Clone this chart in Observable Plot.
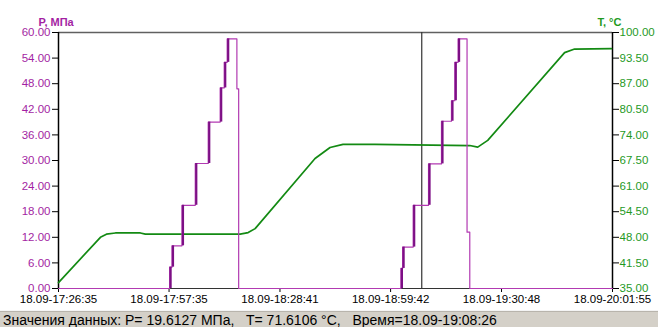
<!DOCTYPE html>
<html>
<head>
<meta charset="utf-8">
<script src="https://cdn.jsdelivr.net/npm/d3@7"></script>
<script src="https://cdn.jsdelivr.net/npm/@observablehq/plot@0.6"></script>
<style>
  html, body { margin: 0; padding: 0; background: #fff; }
  #chart svg { display: block; }
  #status {
    height: 16px; background: #d4d0c8; border-top: 1px solid #f4f4f4;
    box-shadow: inset 0 1px 0 #b8b4ac;
    font-family: "Liberation Sans", Arial, sans-serif; font-size: 14px;
    line-height: 19px; white-space: pre; padding-left: 3px; color: #000;
    overflow: hidden;
  }
</style>
</head>
<body>
<div id="chart"></div>
<div id="status"></div>
<script>
// ---- data ----
const dateLabel = "18.09";
const xStart = "17:26:35";
const xEnd = "20:01:55";
const xTickTimes = ["17:26:35", "17:57:35", "18:28:41", "18:59:42", "19:30:48", "20:01:55"];
const pTicks = [0, 6, 12, 18, 24, 30, 36, 42, 48, 54, 60];
const tTicks = [35, 41.5, 48, 54.5, 61, 67.5, 74, 80.5, 87, 93.5, 100];

// Pressure, MPa (step series)
const pTimes = ["17:26:35", "17:57:44", "17:58:24", "18:01:12", "18:04:56", "18:08:34", "18:11:55", "18:13:03", "18:13:53", "18:16:36", "18:17:06",
                "19:02:35", "19:03:04", "19:06:02", "19:10:20", "19:13:58", "19:16:46", "19:17:42", "19:18:37", "19:21:08", "19:21:54", "20:01:55"];
const pValues = [0, 5, 10, 19.5, 29.3, 39, 47, 53, 58.5, 46.8, 0,
                 4.7, 9.7, 19.5, 29.2, 39.2, 44, 53, 58.5, 13.2, 0, 0];

// Temperature, °C
const tTimes = ["17:26:35", "17:38:20", "17:40:01", "17:42:32", "17:49:32", "17:50:56", "18:17:31", "18:19:46", "18:21:43", "18:38:31", "18:42:43",
                "18:46:21", "18:55:18", "19:21:54", "19:24:08", "19:26:56", "19:48:29", "19:51:17", "20:01:38"];
const tValues = [36.5, 48.0, 48.8, 49.1, 49.1, 48.8, 48.8, 49.2, 50.2, 68.0, 70.8,
                 71.6, 71.6, 71.3, 70.9, 72.6, 94.9, 95.8, 95.9];

const cursorTime = "19:08:26";
const cursorP = "19.6127";
const cursorT = "71.6106";

// ---- helpers ----
const parse = s => { const [h, m, sec] = s.split(":").map(Number); return new Date(2000, 8, 18, h, m, sec); };
const tMin = 35, tMax = 100, pMax = 60;
const tToP = t => (t - tMin) / (tMax - tMin) * pMax;
const pToT = p => tMin + p / pMax * (tMax - tMin);

const pData = pTimes.map((s, i) => ({time: parse(s), P: pValues[i]}));
const tData = tTimes.map((s, i) => ({time: parse(s), T: tValues[i]}));
// rising edges of the pressure steps (drawn heavier, as in the recorder trace)
const rises = pData.slice(1).map((d, i) => ({time: d.time, from: pData[i].P, to: d.P})).filter(d => d.to > d.from);

const purple = "#a31fa3";
const green = "#1f9a1f";

const chart = Plot.plot({
  width: 658, height: 310,
  marginLeft: 58, marginRight: 46, marginTop: 32, marginBottom: 22,
  style: {fontFamily: "'Liberation Sans', Arial, sans-serif", fontSize: "11.5px", background: "#fff", overflow: "visible"},
  x: {type: "time", domain: [parse(xStart), parse(xEnd)]},
  y: {domain: [0, pMax]},
  marks: [
    Plot.ruleY([pMax], {stroke: "#606060", strokeWidth: 1.5}),
    Plot.ruleY([0], {stroke: "#333"}),
    Plot.axisY({anchor: "left", ticks: pTicks, tickFormat: d => d.toFixed(2), tickSize: 6, tickPadding: 2, fill: purple, stroke: "#000", label: null}),
    Plot.axisY({anchor: "right", ticks: tTicks.map(tToP), tickFormat: d => pToT(d).toFixed(2), tickSize: 6, tickPadding: 1, fill: green, stroke: "#000", label: null}),
    Plot.axisX({ticks: xTickTimes.map(parse), tickFormat: d => dateLabel + "-" + d3.timeFormat("%H:%M:%S")(d), tickSize: 4, tickPadding: 2, fill: "#000", stroke: "#000", label: null}),
    Plot.ruleX([parse(xStart)], {stroke: "#000", strokeWidth: 1.5}),
    Plot.ruleX([parse(xEnd)], {stroke: "#000", strokeWidth: 1.5}),
    Plot.ruleX([parse(cursorTime)], {stroke: "#333", strokeWidth: 1.2}),
    Plot.line(tData, {x: "time", y: d => tToP(d.T), stroke: "#138a13", strokeWidth: 1.7}),
    Plot.line(pData, {x: "time", y: "P", curve: "step-after", stroke: "#b23ab2", strokeWidth: 1.2}),
    Plot.ruleX(rises, {x: "time", y1: "from", y2: "to", stroke: "#7d0f85", strokeWidth: 2.2, dx: 1}),
    Plot.text(["P, МПа"], {frameAnchor: "top-left", dx: -20, dy: -14, fill: purple, textAnchor: "start", fontWeight: "bold", fontSize: 11}),
    Plot.text(["T, °C"], {frameAnchor: "top-right", dx: -15, dy: -14, fill: green, textAnchor: "start", fontWeight: "bold", fontSize: 11})
  ]
});
document.getElementById("chart").append(chart);
document.getElementById("status").textContent =
  `Значения данных: P= ${cursorP} МПа,   T= ${cursorT} °C,   Время=${dateLabel}-${cursorTime}`;
</script>
</body>
</html>
